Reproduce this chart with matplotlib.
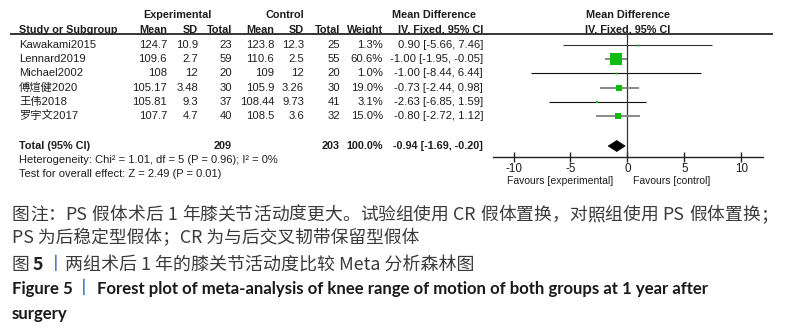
import re
import matplotlib
matplotlib.use("Agg")
import matplotlib.pyplot as plt
from matplotlib.patches import Polygon

# ---------------- data ----------------
studies = ["Kawakami2015", "Lennard2019", "Michael2002", "傅煊健2020", "王伟2018", "罗宇文2017"]
exp_mean = [124.7, 109.6, 108, 105.17, 105.81, 107.7]
exp_sd = [10.9, 2.7, 12, 3.48, 9.3, 4.7]
exp_n = [23, 59, 20, 30, 37, 40]
ctl_mean = [123.8, 110.6, 109, 105.9, 108.44, 108.5]
ctl_sd = [12.3, 2.5, 12, 3.26, 9.73, 3.6]
ctl_n = [25, 55, 20, 30, 41, 32]
weights = [1.3, 60.6, 1.0, 19.0, 3.1, 15.0]
md = [0.90, -1.00, -1.00, -0.73, -2.63, -0.80]
ci_lo = [-5.66, -1.95, -8.44, -2.44, -6.85, -2.72]
ci_hi = [7.46, -0.05, 6.44, 0.98, 1.59, 1.12]
total_exp_n = 209
total_ctl_n = 203
total_weight = 100.0
total_md = -0.94
total_lo = -1.69
total_hi = -0.20
heterogeneity = "Heterogeneity: Chi² = 1.01, df = 5 (P = 0.96); I² = 0%"
overall = "Test for overall effect: Z = 2.49 (P = 0.01)"
xticks = [-10, -5, 0, 5, 10]
xlabel_left = "Favours [experimental]"
xlabel_right = "Favours [control]"
caption1 = "图注：PS 假体术后 1 年膝关节活动度更大。试验组使用 CR 假体置换，对照组使用 PS 假体置换；"
caption2 = "PS 为后稳定型假体；CR 为与后交叉韧带保留型假体"
caption3_a = "图"
caption3_b = "5"
caption3_c = "两组术后 1 年的膝关节活动度比较 Meta 分析森林图"
caption4_a = "Figure 5"
caption4_b = "Forest plot of meta-analysis of knee range of motion of both groups at 1 year after"
caption5 = "surgery"
bar_char = "丨"

# ---------------- styles ----------------
W, H = 785, 331
TABLE_FONT = ["Liberation Sans", "Noto Sans CJK SC"]
TICK_FONT = ["Liberation Sans", "DejaVu Sans"]
CJK_FONT = ["Noto Sans CJK SC", "DejaVu Sans"]
TFS = 8.0
TFS_ROW = 8.1
TFS_B = 7.8
TXT = "#1e1e1e"
GREEN = "#12bb12"
BLUE = "#2f6db5"
line_colors = ["#333333", "#808080", "#111111", "#808080", "#111111", "#808080"]
line_widths = [0.8, 1.3, 0.8, 1.3, 0.8, 1.3]

fig = plt.figure(figsize=(W / 100, H / 100), dpi=100)
fig.patch.set_facecolor("white")
bg = fig.add_axes([0, 0, 1, 1])
bg.set_xlim(0, W)
bg.set_ylim(H, 0)
bg.axis("off")
renderer = fig.canvas.get_renderer()


def fit_text(x, y, s, target_w, size0=10, **kw):
    t = bg.text(x, y, s, fontsize=size0, **kw)
    w = t.get_window_extent(renderer).width
    t.set_fontsize(size0 * target_w / w)
    return t


def justified(x0, x1, y, s, size, **kw):
    toks = re.findall(r"[A-Za-z0-9]+|\s|.", s)
    items = []
    tot = 0
    for tok in toks:
        t = bg.text(0, y, tok, fontsize=size, ha="left", va="center", **kw)
        w = t.get_window_extent(renderer).width
        if tok == " ":
            w = size * 0.26 * 100 / 72
        items.append((t, w))
        tot += w
    gap = (x1 - x0 - tot) / (len(items) - 1)
    x = x0
    for t, w in items:
        t.set_x(x)
        x += w + gap


def htext(x, y, s, ha="center"):
    bg.text(x, y, s, ha=ha, va="center", fontsize=TFS_B, fontweight="bold",
            family=TABLE_FONT, color=TXT)


def ttext(x, y, s, ha="left", size=TFS):
    bg.text(x, y, s, ha=ha, va="center", fontsize=size, family=TABLE_FONT, color=TXT)


# ---------------- table ----------------
row_y0, row_dy = 45, 14.2
rows_y = [row_y0 + i * row_dy for i in range(len(studies))]
total_y = 146

cols = dict(em=167, esd=198, en=232, cm=274, csd=304, cn=340, w=383, ci=483)

htext(177, 15, "Experimental")
htext(285, 15, "Control")
htext(434, 15, "Mean Difference")
htext(628, 15, "Mean Difference")
htext(19, 30, "Study or Subgroup", ha="left")
for key, lab in [("em", "Mean"), ("esd", "SD"), ("en", "Total"), ("cm", "Mean"),
                 ("csd", "SD"), ("cn", "Total"), ("w", "Weight"),
                 ("ci", "IV, Fixed, 95% CI")]:
    htext(cols[key], 30, lab, ha="right")
htext(628, 30, "IV, Fixed, 95% CI")
bg.plot([10, 773], [33.8, 33.8], color="black", lw=1.1, solid_capstyle="butt")

for i, name in enumerate(studies):
    y = rows_y[i]
    ttext(19, y, name, size=TFS_ROW)
    vals = [("em", f"{exp_mean[i]:g}"), ("esd", f"{exp_sd[i]:g}"), ("en", f"{exp_n[i]}"),
            ("cm", f"{ctl_mean[i]:g}"), ("csd", f"{ctl_sd[i]:g}"), ("cn", f"{ctl_n[i]}"),
            ("w", f"{weights[i]:.1f}%"),
            ("ci", f"{md[i]:.2f} [{ci_lo[i]:.2f}, {ci_hi[i]:.2f}]")]
    for key, s in vals:
        ttext(cols[key], y, s, ha="right", size=TFS_ROW)

htext(19, total_y, "Total (95% CI)", ha="left")
for key, s in [("en", f"{total_exp_n}"), ("cn", f"{total_ctl_n}"), ("w", f"{total_weight:.1f}%"),
               ("ci", f"{total_md:.2f} [{total_lo:.2f}, {total_hi:.2f}]")]:
    htext(cols[key], total_y, s, ha="right")
ttext(19, 160, heterogeneity)
ttext(19, 174, overall)

# ---------------- forest ----------------
ax_l, ax_r, ax_t, ax_b = 493, 763, 33.8, 157
fx = fig.add_axes([ax_l / W, 1 - ax_b / H, (ax_r - ax_l) / W, (ax_b - ax_t) / H])
fx.set_xlim(-11.8, 11.9)
fx.set_ylim(ax_b, ax_t)
fx.patch.set_alpha(0)
for sp in ["top", "right", "left"]:
    fx.spines[sp].set_visible(False)
fx.spines["bottom"].set_linewidth(1.0)
fx.spines["bottom"].set_color("#222222")
fx.set_yticks([])
fx.set_xticks(xticks)
fx.set_xticklabels([f"{t}" for t in xticks], family=TICK_FONT, fontsize=8.4, color=TXT)
fx.tick_params(axis="x", direction="inout", length=7, width=1.0, color="#222222", pad=1)
fx.axvline(0, color="#333333", lw=0.9)

for i in range(len(studies)):
    y = rows_y[i]
    fx.plot([ci_lo[i], ci_hi[i]], [y, y], color=line_colors[i], lw=line_widths[i],
            solid_capstyle="butt", zorder=2)
    side_px = max(1.8, 11.5 * (weights[i] / max(weights)) ** 0.5)
    fx.plot([md[i]], [y], marker="s", markersize=side_px * 0.72, color=GREEN,
            markeredgewidth=0, linestyle="none", zorder=3)

dh = 5.5
fx.add_patch(Polygon([(total_lo, total_y), (total_md, total_y - dh), (total_hi, total_y),
                      (total_md, total_y + dh)], closed=True, facecolor="black",
                     edgecolor="black", lw=0.5, zorder=3))

ttext(613, 181, xlabel_left, ha="right", size=7.5)
ttext(633, 181, xlabel_right, ha="left", size=7.5)

# ---------------- caption ----------------
cap_col = "#3a3a3a"
t2 = fit_text(12, 238, caption2, 419 - 12, ha="left", va="center", family=CJK_FONT, color=cap_col)
cap_size = t2.get_fontsize()
justified(12, 778, 215, caption1, cap_size, family=CJK_FONT, color=cap_col)

bg.text(12, 265, caption3_a, fontsize=cap_size, ha="left", va="center", family=CJK_FONT, color=cap_col)
bg.text(33, 265, caption3_b, fontsize=cap_size, ha="left", va="center", family=CJK_FONT,
        fontweight="bold", color="#222222")
bg.text(47, 265, bar_char, fontsize=cap_size, ha="left", va="center", family=CJK_FONT, color=BLUE)
fit_text(65, 265, caption3_c, 474 - 65, ha="left", va="center", family=CJK_FONT, color=cap_col)

t4 = fit_text(97, 289, caption4_b, 714 - 97, ha="left", va="center", family=["Lato", "DejaVu Sans"],
              fontweight="bold", color="#1a1a1a")
bsize = t4.get_fontsize()
bg.text(12, 289, caption4_a, fontsize=bsize, ha="left", va="center", family=["Lato", "DejaVu Sans"],
        fontweight="bold", color="#1a1a1a")
bg.text(75, 289, bar_char, fontsize=cap_size, ha="left", va="center", family=CJK_FONT, color=BLUE)
bg.text(12, 314, caption5, fontsize=bsize, ha="left", va="center", family=["Lato", "DejaVu Sans"],
        fontweight="bold", color="#1a1a1a")

fig.savefig("out.png", dpi=100, facecolor="white")
